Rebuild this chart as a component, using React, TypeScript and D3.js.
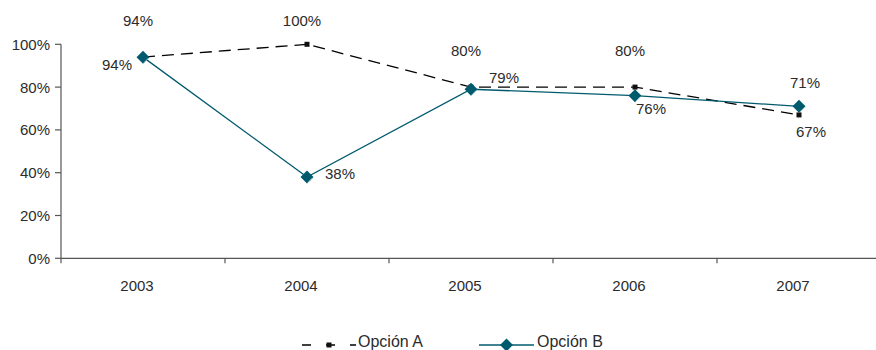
import React from "react";
import * as d3 from "d3";

const categories = ["2003", "2004", "2005", "2006", "2007"];
const seriesA = [94, 100, 80, 80, 67];
const seriesB = [94, 38, 79, 76, 71];
const yTicks = [0, 20, 40, 60, 80, 100];
const seriesNames = ["Opción A", "Opción B"];

// label placement names per point
const placeA = ["above", "above", "above", "above", "below"];
const placeB = ["left", "right", "rightUp", "belowRight", "aboveRight"];

const W = 876;
const H = 350;
const margin = { left: 61, right: -5, top: 44.3, bottom: 92 };
const TEAL = "#005a6e";
const FONT = "'Liberation Sans', Arial, sans-serif";
const TXT = "#2b2b2b";
const AXIS = "#555";

const offsets: Record<string, { dx: number; dy: number; anchor: string }> = {
  above: { dx: -5, dy: -31, anchor: "middle" },
  below: { dx: 12, dy: 22, anchor: "middle" },
  left: { dx: -11, dy: 13, anchor: "end" },
  right: { dx: 18, dy: 2, anchor: "start" },
  rightUp: { dx: 18, dy: -6, anchor: "start" },
  belowRight: { dx: 16, dy: 18, anchor: "middle" },
  aboveRight: { dx: 6, dy: -18, anchor: "middle" },
};

function Diamond({ x, y, r }: { x: number; y: number; r: number }) {
  return (
    <g>
      <path
        d={`M${x},${y - r}L${x + r},${y}L${x},${y + r}L${x - r},${y}Z`}
        fill={TEAL}
      />
      <path
        d={`M${x + r - 1},${y + 1}L${x + 1},${y + r - 1}`}
        stroke="#9cc3cc"
        strokeWidth={1}
        fill="none"
      />
    </g>
  );
}

export default function App() {
  const x0 = margin.left;
  const x1 = W - margin.right;
  const yBottom = 258.3;
  const yTop = margin.top;

  const band = d3.scaleBand<string>().domain(categories).range([x0, x1]);
  const y = d3.scaleLinear().domain([0, 100]).range([yBottom, yTop]);
  const cx = (c: string) => (band(c) as number) + band.bandwidth() / 2;

  const line = d3
    .line<number>()
    .x((_, i) => cx(categories[i]))
    .y((d) => y(d));

  const boundaries = categories.map((c) => band(c) as number);

  return (
    <svg
      width={W}
      height={H}
      style={{ position: "absolute", left: 0, top: 0, background: "#fff" }}
      fontFamily={FONT}
    >
      {/* axes */}
      <line x1={x0} x2={x0} y1={yTop} y2={yBottom} stroke={AXIS} strokeWidth={1.2} />
      <line x1={x0} x2={W} y1={yBottom} y2={yBottom} stroke={AXIS} strokeWidth={1.2} />
      {yTicks.map((t) => (
        <g key={t}>
          <line x1={x0 - 6} x2={x0} y1={y(t)} y2={y(t)} stroke={AXIS} strokeWidth={1.2} />
          <text
            x={x0 - 11}
            y={y(t)}
            dy="0.36em"
            textAnchor="end"
            fontSize={15}
            fill={TXT}
          >
            {t}%
          </text>
        </g>
      ))}
      {boundaries.map((b, i) => (
        <line key={i} x1={b} x2={b} y1={yBottom} y2={yBottom + 5} stroke={AXIS} strokeWidth={1.2} />
      ))}
      {categories.map((c) => (
        <text key={c} x={cx(c) - 6} y={291} textAnchor="middle" fontSize={15} fill={TXT}>
          {c}
        </text>
      ))}

      {/* series A */}
      <path
        d={line(seriesA) as string}
        fill="none"
        stroke="#000"
        strokeWidth={1.3}
        strokeDasharray="12,7"
      />
      {seriesA.map((v, i) => (
        <rect key={i} x={cx(categories[i]) - 2.5} y={y(v) - 2.5} width={5} height={5} fill="#111" />
      ))}

      {/* series B */}
      <path d={line(seriesB) as string} fill="none" stroke={TEAL} strokeWidth={1.3} />
      {seriesB.map((v, i) => (
        <Diamond key={i} x={cx(categories[i])} y={y(v)} r={6.5} />
      ))}

      {/* labels */}
      {seriesA.map((v, i) => {
        const o = offsets[placeA[i]];
        const px = cx(categories[i]);
        const py = y(v);
        const ty = o.dy < 0 ? Math.max(26, py + o.dy) : py + o.dy;
        return (
          <text key={i} x={px + o.dx} y={ty} textAnchor={o.anchor} fontSize={15} fill={TXT}>
            {v}%
          </text>
        );
      })}
      {seriesB.map((v, i) => {
        const o = offsets[placeB[i]];
        const px = cx(categories[i]);
        const py = y(v);
        return (
          <text key={i} x={px + o.dx} y={py + o.dy} textAnchor={o.anchor} fontSize={15} fill={TXT}>
            {v}%
          </text>
        );
      })}

      {/* legend */}
      <g>
        <line x1={302} x2={356} y1={345} y2={345} stroke="#000" strokeWidth={1.3} strokeDasharray="9,15" strokeDashoffset={0} />
        <rect x={326.5} y={342.5} width={5} height={5} fill="#111" />
        <text x={358} y={347} fontSize={16} fill={TXT}>
          {seriesNames[0]}
        </text>
        <line x1={479} x2={534} y1={345} y2={345} stroke={TEAL} strokeWidth={1.3} />
        <Diamond x={506.5} y={345} r={6.5} />
        <text x={537} y={347} fontSize={16} fill={TXT}>
          {seriesNames[1]}
        </text>
      </g>
    </svg>
  );
}
